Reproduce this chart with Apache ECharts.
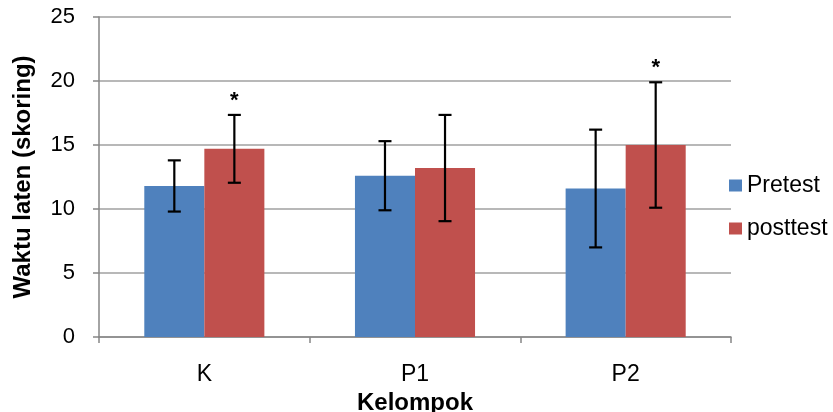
<!DOCTYPE html>
<html>
<head>
<meta charset="utf-8">
<script src="https://cdn.jsdelivr.net/npm/echarts@6/dist/echarts.min.js"></script>
<style>
  html, body { margin: 0; padding: 0; background: #fff; }
  #chart { width: 833px; height: 412px; }
</style>
</head>
<body>
<div id="chart"></div>
<script>
const categories = ['K', 'P1', 'P2'];
const pretest = [11.8, 12.6, 11.6];
const pretestErr = [2.0, 2.7, 4.6];
const posttest = [14.7, 13.2, 15.0];
const posttestErr = [2.65, 4.15, 4.9];
const posttestSig = [true, false, true];
const yMin = 0, yMax = 25, yStep = 5;

const FONT = '"Liberation Sans", Arial, sans-serif';
const CAT_GAP = 0.43; // share of the band left empty

// error bars (and the * marks) sit on top of each bar, via a custom series
function errorSeries(name, values, errs, side, sig) {
  return {
    type: 'custom',
    name: name + '-err',
    z: 10,
    renderItem: function (params, api) {
      const i = api.value(0);
      const lo = api.coord([i, api.value(1)]);
      const hi = api.coord([i, api.value(2)]);
      const band = api.size([1, 0])[0];
      const x = lo[0] + side * band * (1 - CAT_GAP) / 4;
      const cap = 6.5;
      const style = { stroke: '#000', lineWidth: 2.2 };
      const children = [
        { type: 'line', shape: { x1: x, y1: lo[1], x2: x, y2: hi[1] }, style: style },
        { type: 'line', shape: { x1: x - cap, y1: hi[1], x2: x + cap, y2: hi[1] }, style: style },
        { type: 'line', shape: { x1: x - cap, y1: lo[1], x2: x + cap, y2: lo[1] }, style: style }
      ];
      if (api.value(3)) {
        children.push({
          type: 'text',
          style: {
            x: x, y: hi[1] - 25, text: '*',
            font: 'bold 22px ' + FONT, fill: '#000',
            align: 'center', verticalAlign: 'top'
          }
        });
      }
      return { type: 'group', children: children };
    },
    data: values.map((v, i) => [i, v - errs[i], v + errs[i], sig && sig[i] ? 1 : 0])
  };
}

const chart = echarts.init(document.getElementById('chart'));
chart.setOption({
  animation: false,
  backgroundColor: '#fff',
  textStyle: { fontFamily: FONT },
  grid: { left: 99, right: 102, top: 17, bottom: 75, outerBoundsMode: 'none' },
  legend: {
    data: ['Pretest', 'posttest'],
    orient: 'vertical',
    left: 724,
    top: 169,
    itemWidth: 13,
    itemHeight: 12,
    itemGap: 20,
    icon: 'rect',
    textStyle: { fontSize: 23, color: '#000', fontFamily: FONT }
  },
  xAxis: {
    type: 'category',
    data: categories,
    name: 'Kelompok',
    nameLocation: 'middle',
    nameGap: 46,
    nameTextStyle: { fontSize: 24, fontWeight: 'bold', color: '#000' },
    axisLine: { lineStyle: { color: '#868686', width: 1.5 } },
    axisTick: { show: true, length: 6, lineStyle: { color: '#868686', width: 1.5 } },
    axisLabel: { fontSize: 23, color: '#000', margin: 26 }
  },
  yAxis: {
    type: 'value',
    min: yMin,
    max: yMax,
    interval: yStep,
    name: 'Waktu laten (skoring)',
    nameLocation: 'middle',
    nameGap: 64,
    nameTextStyle: { fontSize: 24, fontWeight: 'bold', color: '#000' },
    axisLine: { show: true, lineStyle: { color: '#868686', width: 1.5 } },
    axisTick: { show: true, length: 6, lineStyle: { color: '#868686', width: 1.5 } },
    axisLabel: { fontSize: 22, color: '#000', margin: 24 },
    splitLine: { lineStyle: { color: '#a0a0a0', width: 1.5 } }
  },
  series: [
    {
      type: 'bar',
      name: 'Pretest',
      data: pretest,
      barGap: '0%',
      barCategoryGap: (CAT_GAP * 100) + '%',
      itemStyle: { color: '#4F81BD' }
    },
    {
      type: 'bar',
      name: 'posttest',
      data: posttest,
      itemStyle: { color: '#C0504D' }
    },
    errorSeries('Pretest', pretest, pretestErr, -1, null),
    errorSeries('posttest', posttest, posttestErr, 1, posttestSig)
  ]
});
</script>
</body>
</html>
